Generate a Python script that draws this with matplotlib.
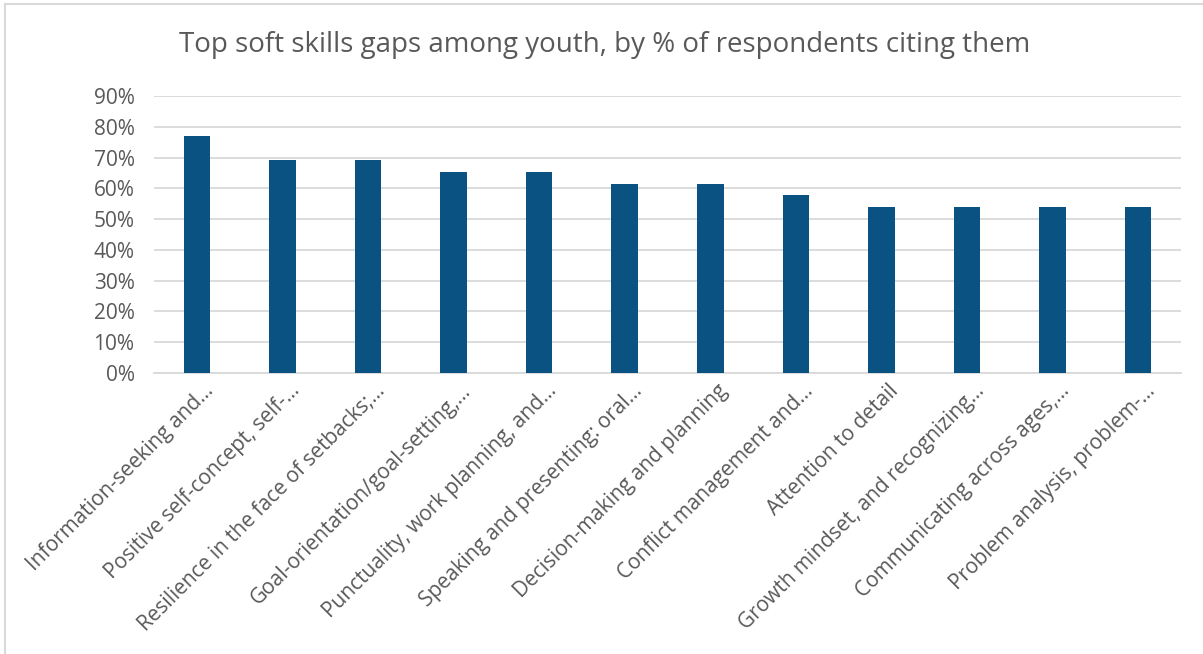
import matplotlib.pyplot as plt
from matplotlib.lines import Line2D
from matplotlib.ticker import PercentFormatter
import matplotlib.transforms as mtransforms

labels = [
    'Information-seeking and…',
    'Positive self-concept, self-…',
    'Resilience in the face of setbacks;…',
    'Goal-orientation/goal-setting,…',
    'Punctuality, work planning, and…',
    'Speaking and presenting: oral…',
    'Decision-making and planning',
    'Conflict management and…',
    'Attention to detail',
    'Growth mindset, and recognizing…',
    'Communicating across ages,…',
    'Problem analysis, problem-…',
]
values = [0.769, 0.692, 0.692, 0.654, 0.654, 0.615, 0.615, 0.577, 0.538, 0.538, 0.538, 0.538]

plt.rcParams['font.family'] = ['Open Sans', 'DejaVu Sans']
grey = '#595959'

fig = plt.figure(figsize=(12.03, 6.54), dpi=100)
ax = fig.add_axes([0.128, 0.4297, 0.8537, 0.4233])

x = range(len(labels))
ax.bar(x, values, width=0.31, color='#0A5282', zorder=3)

ax.set_xlim(-0.5, len(labels) - 0.5)
ax.set_ylim(0, 0.9)
ax.set_yticks([i / 10 for i in range(10)])
ax.yaxis.set_major_formatter(PercentFormatter(1.0, decimals=0))
ax.grid(axis='y', color='#d9d9d9', linewidth=1.3, zorder=0)
for s in ['top', 'right', 'left']:
    ax.spines[s].set_visible(False)
ax.spines['bottom'].set_color('#d9d9d9')
ax.spines['bottom'].set_linewidth(1.3)
ax.tick_params(axis='both', length=0, labelsize=15, labelcolor=grey)
ax.tick_params(axis='y', pad=14)

ax.set_xticks(list(x))
ax.set_xticklabels(labels, rotation=45, ha='right', va='center', rotation_mode='anchor')
offset = mtransforms.ScaledTranslation(0.14, -0.10, fig.dpi_scale_trans)
for t in ax.get_xticklabels():
    t.set_transform(t.get_transform() + offset)

fig.text(0.503, 0.931, 'Top soft skills gaps among youth, by % of respondents citing them',
         ha='center', va='center', fontsize=20, color=grey)

# chart frame
fig.add_artist(Line2D([5 / 1203, 1], [1 - 3.5 / 654, 1 - 3.5 / 654], color='#d9d9d9', linewidth=1.5))
fig.add_artist(Line2D([5 / 1203, 5 / 1203], [0, 1 - 3.5 / 654], color='#d9d9d9', linewidth=1.5))

fig.savefig('out.png', dpi=100)
